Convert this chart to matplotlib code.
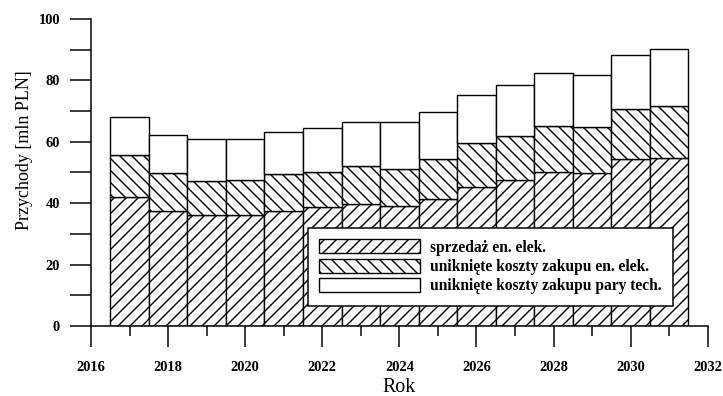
import numpy as np
import matplotlib
matplotlib.use('Agg')
import matplotlib.pyplot as plt
from matplotlib.ticker import MultipleLocator

# revenue components per year [mln PLN]
years = np.arange(2017, 2032)
sprzedaz = [42.1, 37.6, 36.3, 36.3, 37.6, 38.7, 39.6, 39.2, 41.4, 45.4, 47.4, 50.3, 49.9, 54.3, 54.8]
koszty_en = [13.7, 12.2, 11.0, 11.1, 11.8, 11.5, 12.5, 11.9, 13.0, 14.1, 14.5, 14.8, 14.8, 16.5, 16.7]
koszty_para = [12.2, 12.5, 13.5, 13.4, 13.8, 14.4, 14.3, 15.3, 15.3, 15.8, 16.7, 17.3, 17.2, 17.6, 18.7]

labels = ['sprzedaż en. elek.',
          'uniknięte koszty zakupu en. elek.',
          'uniknięte koszty zakupu pary tech.']

plt.rcParams['font.family'] = ['Liberation Serif', 'DejaVu Serif']
plt.rcParams['hatch.linewidth'] = 1.4
plt.rcParams['hatch.color'] = 'black'

DPI = 72
fig = plt.figure(figsize=(723 / DPI, 396 / DPI), dpi=DPI)
ax = fig.add_axes([91 / 723, 70 / 396, 616.7 / 723, 307 / 396])

bar_kw = dict(width=1.0, edgecolor='black', linewidth=1.4, color='white')
b1 = np.array(sprzedaz)
b2 = b1 + np.array(koszty_en)
ax.bar(years, sprzedaz, hatch='//', label=labels[0], **bar_kw)
ax.bar(years, koszty_en, bottom=b1, hatch='\\\\', label=labels[1], **bar_kw)
ax.bar(years, koszty_para, bottom=b2, label=labels[2], **bar_kw)

ax.set_xlim(2016, 2032)
ax.set_ylim(0, 100)
for side in ['top', 'right']:
    ax.spines[side].set_visible(False)
for side in ['left', 'bottom']:
    ax.spines[side].set_linewidth(1.5)

ax.xaxis.set_major_locator(MultipleLocator(2))
ax.xaxis.set_minor_locator(MultipleLocator(1))
ax.yaxis.set_major_locator(MultipleLocator(20))
ax.yaxis.set_minor_locator(MultipleLocator(10))
ax.tick_params(axis='x', which='major', direction='out', length=21, width=1.5,
               pad=14, labelsize=14.5)
ax.tick_params(axis='x', which='minor', direction='out', length=10, width=1.5)
ax.tick_params(axis='y', which='both', direction='out', length=21, width=1.5,
               pad=10, labelsize=14.5)
for lab in ax.get_xticklabels() + ax.get_yticklabels():
    lab.set_fontweight('bold')

ax.set_xlabel('Rok', fontsize=20, labelpad=4)
ax.set_ylabel('Przychody [mln PLN]', fontsize=18)
ax.yaxis.set_label_coords(-0.094, 0.573)

leg = ax.legend(loc='lower right', bbox_to_anchor=(0.944, 0.065),
                borderaxespad=0, fancybox=False, framealpha=1, edgecolor='black',
                handlelength=6.5, handleheight=1.0, labelspacing=0.2,
                handletextpad=0.65, borderpad=0.75,
                prop={'weight': 'bold', 'size': 15.5})
leg.get_frame().set_linewidth(1.5)

fig.savefig('out.png', dpi=DPI)
